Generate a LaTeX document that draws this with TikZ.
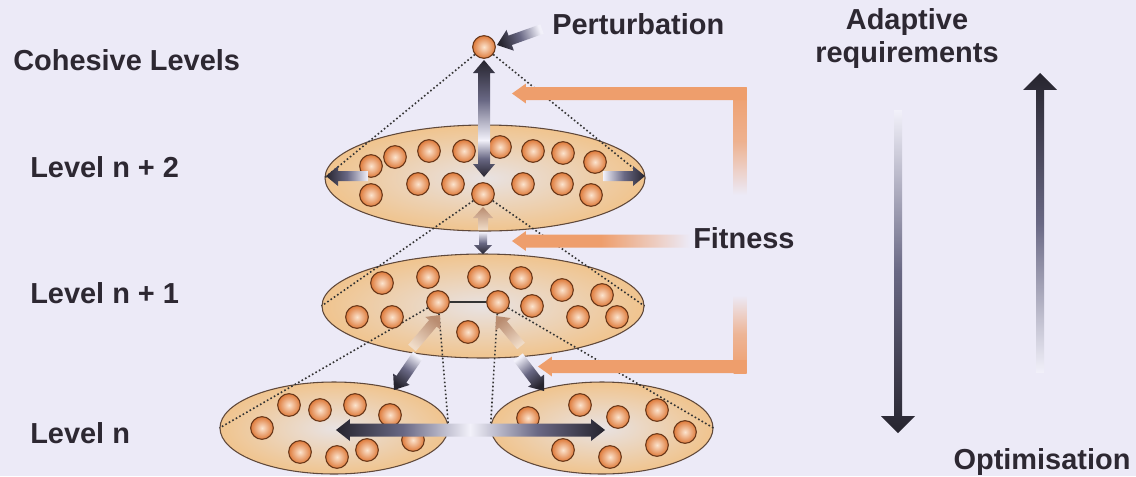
\documentclass[tikz,border=0pt]{standalone}
\usepackage{fontspec}
\setmainfont{Liberation Sans}
\usetikzlibrary{calc, shapes.geometric}

\definecolor{bgcol}{RGB}{236,234,247}
\definecolor{cellfill}{RGB}{240,196,142}
\definecolor{cellglow}{RGB}{232,226,226}
\definecolor{celledge}{RGB}{95,72,58}
\definecolor{ballcol}{RGB}{222,122,58}
\definecolor{ballhigh}{RGB}{252,228,206}
\definecolor{balledge}{RGB}{105,55,25}
\definecolor{darkarr}{RGB}{38,36,46}
\definecolor{midarr}{RGB}{105,104,132}
\definecolor{fadearr}{RGB}{242,241,250}
\definecolor{tanarr}{RGB}{185,140,112}
\definecolor{tanfade}{RGB}{240,220,200}
\definecolor{fitcol}{RGB}{238,158,108}
\definecolor{txtcol}{RGB}{45,40,50}

% shaded block arrow: [extra] from, to, tail colour, head colour, shaft, head width, head length
\newcommand{\gradarrow}[8][]{%
  \path let \p1=($(#3)-(#2)$) in
    \pgfextra{\pgfmathsetmacro{\garang}{atan2(\y1,\x1)}%
      \pgfmathsetmacro{\garlen}{veclen(\x1,\y1)/0.75}%
      \xdef\garang{\garang}\xdef\garlen{\garlen}};
  \begin{scope}[shift={(#2)}, rotate=\garang]
    \shade[left color=#4, right color=#5, #1, shading angle=\garang+90]
      (0,-#6) -- (\garlen-#8,-#6) -- (\garlen-#8,-#7) -- (\garlen,0)
      -- (\garlen-#8,#7) -- (\garlen-#8,#6) -- (0,#6) -- cycle;
  \end{scope}}

\begin{document}
\begin{tikzpicture}[x=0.75pt, y=-0.75pt,
  cell/.style={ellipse, draw=celledge, line width=0.8pt, inner sep=0pt,
    inner color=cellglow, outer color=cellfill},
  bead/.style={circle, draw=balledge, line width=0.8pt, minimum size=17pt,
    inner sep=0pt, inner color=ballhigh, outer color=ballcol},
  cone/.style={dash pattern=on 1.2pt off 1.8pt, line width=1.2pt, black!80},
  lbl/.style={font=\bfseries\fontsize{21.7}{24.75}\selectfont, text=txtcol, inner sep=0pt}
]
  \fill[bgcol] (0,0) rectangle (1136,476);
  \useasboundingbox (0,0) rectangle (1136,476);

  % levels
  \node[cell, minimum width=240pt, minimum height=79.5pt] (n2) at (485,178) {};
  \node[cell, minimum width=241.5pt, minimum height=78pt] (n1) at (483,306) {};
  \node[cell, minimum width=171pt, minimum height=69pt] (lb) at (334,428) {};
  \node[cell, minimum width=166.5pt, minimum height=69pt] (rb) at (602,428) {};

  % hubs and cones
  \node[bead] (pert) at (484,47) {};
  \node[bead] (hub2) at (483,194) {};
  \node[bead] (hubl) at (438,302) {};
  \node[bead] (hubr) at (498,302) {};
  \draw[cone] (pert) -- (n2.west);
  \draw[cone] (pert) -- (n2.east);
  \draw[cone] (hub2) -- (n1.west);
  \draw[cone] (hub2) -- (n1.east);
  \draw[cone] (hubl) -- (lb.west);
  \draw[cone] (hubl) -- (lb.east);
  \draw[cone] (hubr) -- (rb.west);
  \draw[cone] (hubr) -- (rb.east);
  \draw[line width=0.9pt, black!80] (hubl) -- (hubr);

  % members
  \foreach \bx/\by [count=\i] in {371/166, 395/157, 429/151, 464/151, 500/147,
      533/151, 563/153, 595/162, 371/195, 418/184, 453/184, 523/184, 562/184, 591/195}
    \node[bead] (m2\i) at (\bx,\by) {};
  \foreach \bx/\by [count=\i] in {382/283, 428/277, 479/277, 521/278, 562/290,
      602/295, 357/317, 392/317, 532/306, 578/317, 617/317, 468/332}
    \node[bead] (m1\i) at (\bx,\by) {};
  \foreach \bx/\by [count=\i] in {289/405, 320/410, 355/405, 390/415, 262/428,
      300/452, 337/457, 367/450, 413/440}
    \node[bead] (ml\i) at (\bx,\by) {};
  \foreach \bx/\by [count=\i] in {528/418, 580/405, 618/417, 657/410, 685/432,
      563/450, 610/457, 657/445}
    \node[bead] (mr\i) at (\bx,\by) {};

  % arrow ends
  \coordinate (pertT) at (542,29);   \coordinate (pertH) at (497,45);
  \coordinate (vMid) at (484,140);   \coordinate (vTop) at (484,60);
  \coordinate (vBot) at (484,177);
  \coordinate (wT) at (368,176);     \coordinate (wH) at (326,176);
  \coordinate (eT) at (603,176);     \coordinate (eH) at (645,176);
  \coordinate (upT) at (483,230);    \coordinate (upH) at (483,207);
  \coordinate (dnT) at (483,232);    \coordinate (dnH) at (483,254);
  \coordinate (ulT) at (412,348);    \coordinate (ulH) at (440,315);
  \coordinate (urT) at (521,346);    \coordinate (urH) at (496,316);
  \coordinate (dlT) at (418,355);    \coordinate (dlH) at (394,390);
  \coordinate (drT) at (518,357);    \coordinate (drH) at (544,391);
  \coordinate (hMid) at (470,430);   \coordinate (hL) at (336,430);
  \coordinate (hR) at (605,430);
  \coordinate (reqT) at (898,110);   \coordinate (reqH) at (898,433);
  \coordinate (optT) at (1040,373);  \coordinate (optH) at (1040,73);
  \coordinate (fitAT) at (746.5,93.5);  \coordinate (fitAH) at (512,93.5);
  \coordinate (fitBT) at (690,241);     \coordinate (fitBH) at (512,241);
  \coordinate (fitCT) at (746.5,366.5); \coordinate (fitCH) at (538,366.5);

  % dark arrows
  \gradarrow[middle color=midarr]{pertT}{pertH}{fadearr}{darkarr}{5}{11}{14}
  \gradarrow[middle color=midarr]{vMid}{vTop}{fadearr}{darkarr}{6}{11}{13}
  \gradarrow[middle color=midarr]{vMid}{vBot}{fadearr}{darkarr}{6}{11}{13}
  \gradarrow[middle color=midarr]{wT}{wH}{fadearr}{darkarr}{5}{10}{12}
  \gradarrow[middle color=midarr]{eT}{eH}{fadearr}{darkarr}{5}{10}{12}
  \gradarrow[middle color=midarr]{dnT}{dnH}{fadearr}{darkarr}{4}{9}{9}
  \gradarrow[middle color=midarr]{dlT}{dlH}{fadearr}{darkarr}{6}{10}{13}
  \gradarrow[middle color=midarr]{drT}{drH}{fadearr}{darkarr}{6}{10}{13}
  \gradarrow[middle color=midarr]{hMid}{hL}{fadearr}{darkarr}{6.5}{11}{14}
  \gradarrow[middle color=midarr]{hMid}{hR}{fadearr}{darkarr}{6.5}{11}{14}
  \gradarrow[middle color=midarr]{reqT}{reqH}{fadearr}{darkarr}{4}{17}{17}
  \gradarrow[middle color=midarr]{optT}{optH}{fadearr}{darkarr}{4}{17}{17}

  % tan arrows
  \gradarrow{upT}{upH}{tanfade}{tanarr}{5}{10}{11}
  \gradarrow{ulT}{ulH}{tanfade}{tanarr}{5}{10}{11}
  \gradarrow{urT}{urH}{tanfade}{tanarr}{5}{10}{11}

  % fitness feedback
  \shade[top color=fitcol, bottom color=bgcol, middle color=fitcol!75!bgcol]
    (733.5,87) rectangle (746.5,195);
  \shade[top color=bgcol, bottom color=fitcol, middle color=fitcol!70!bgcol]
    (733.5,295) rectangle (746.5,373);
  \gradarrow{fitAT}{fitAH}{fitcol}{fitcol}{6.5}{10}{14}
  \gradarrow[middle color=fitcol]{fitBT}{fitBH}{bgcol}{fitcol}{6.5}{10}{14}
  \gradarrow{fitCT}{fitCH}{fitcol}{fitcol}{6.5}{10}{14}

  % labels
  \node[lbl, anchor=west] (cohesive) at (13,60) {Cohesive Levels};
  \node[lbl, anchor=west] (lvl2) at (30,167) {Level n + 2};
  \node[lbl, anchor=west] (lvl1) at (30,293) {Level n + 1};
  \node[lbl, anchor=west] (lvl0) at (30,433) {Level n};
  \node[lbl, anchor=west] (perturb) at (552,24) {Perturbation};
  \node[lbl, anchor=west] (fitness) at (693,238) {Fitness};
  \node[lbl, align=center] (adapt) at (907,39) {Adaptive\\requirements};
  \node[lbl] (optim) at (1042,462) {Optimisation};
\end{tikzpicture}
\end{document}
